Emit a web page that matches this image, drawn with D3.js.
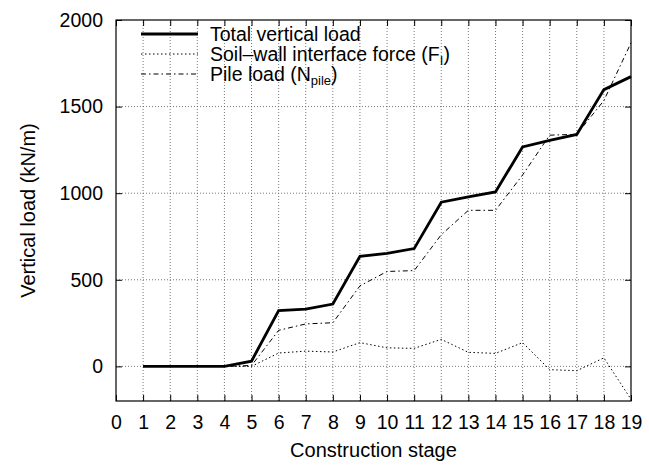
<!DOCTYPE html>
<html>
<head>
<meta charset="utf-8">
<script src="https://cdn.jsdelivr.net/npm/d3@7"></script>
<style>
  body { margin: 0; background: #fff; }
  svg text { font-family: "Liberation Sans", Arial, sans-serif; fill: #000; }
</style>
</head>
<body>
<script>
// Construction stages and loads (kN/m)
var stages = [1, 2, 3, 4, 5, 6, 7, 8, 9, 10, 11, 12, 13, 14, 15, 16, 17, 18, 19];
var totalLoad = [0, 0, 0, 0, 30, 322, 330, 360, 635, 653, 680, 948, 978, 1007, 1267, 1305, 1339, 1598, 1673];
var interfaceForce = [0, 0, 0, 0, 0, 77, 88, 83, 137, 107, 104, 156, 81, 75, 137, -19, -25, 49, -190];
var pileLoad = [0, 0, 0, 0, 5, 208, 245, 252, 465, 548, 553, 760, 901, 901, 1105, 1335, 1340, 1535, 1868];
var xTicks = d3.range(0, 20);
var yTicks = [0, 500, 1000, 1500, 2000];

function drawChart(){
  var W = 649, H = 467;
  var m = {left: 116, right: 18, top: 20, bottom: 66};

  var svg = d3.select("body").append("svg")
      .attr("width", W)
      .attr("height", H);

  var x = d3.scaleLinear().domain([0, 19]).range([m.left, W - m.right]);
  var y = d3.scaleLinear().domain([-200, 2000]).range([H - m.bottom, m.top]);

  // grid
  svg.append("g").selectAll("line").data(xTicks.slice(1, -1)).join("line")
      .attr("x1", d => x(d)).attr("x2", d => x(d))
      .attr("y1", y(-200)).attr("y2", y(2000))
      .attr("stroke", "#555").attr("stroke-width", 0.8)
      .attr("stroke-dasharray", "1,2");
  svg.append("g").selectAll("line").data(yTicks.slice(0, -1)).join("line")
      .attr("x1", x(0)).attr("x2", x(19))
      .attr("y1", d => y(d)).attr("y2", d => y(d))
      .attr("stroke", "#555").attr("stroke-width", 0.8)
      .attr("stroke-dasharray", "1,2");

  // axes, ticks pointing inward on all sides
  svg.append("g").attr("transform", "translate(0," + y(-200) + ")")
      .call(d3.axisBottom(x).tickValues(xTicks).tickSize(-6).tickPadding(14).tickSizeOuter(0))
      .call(g => g.selectAll("text").attr("font-size", 19.5));
  svg.append("g").attr("transform", "translate(0," + y(2000) + ")")
      .call(d3.axisTop(x).tickValues(xTicks).tickSize(-6).tickFormat("").tickSizeOuter(0));
  svg.append("g").attr("transform", "translate(" + x(0) + ",0)")
      .call(d3.axisLeft(y).tickValues(yTicks).tickSize(-6).tickPadding(13)
        .tickFormat(d3.format("d")).tickSizeOuter(0))
      .call(g => g.selectAll("text").attr("font-size", 19.5));
  svg.append("g").attr("transform", "translate(" + x(19) + ",0)")
      .call(d3.axisRight(y).tickValues(yTicks).tickSize(-6).tickFormat("").tickSizeOuter(0));
  svg.selectAll(".domain").remove();
  svg.selectAll(".tick line").attr("stroke", "#000");

  // frame
  svg.append("rect")
      .attr("x", x(0)).attr("y", y(2000))
      .attr("width", x(19) - x(0)).attr("height", y(-200) - y(2000))
      .attr("fill", "none").attr("stroke", "#000").attr("stroke-width", 1.2);

  // series
  var series = [
    {name: "Total vertical load", values: totalLoad, width: 2.8, dash: null},
    {name: "interface", values: interfaceForce, width: 1, dash: "1.5,2.5"},
    {name: "pile", values: pileLoad, width: 1, dash: "5,3,1.5,3"}
  ];
  var line = d3.line().x((d, i) => x(stages[i])).y(d => y(d));
  series.forEach(function(s){
    svg.append("path")
        .datum(s.values)
        .attr("d", line)
        .attr("fill", "none")
        .attr("stroke", "#000")
        .attr("stroke-width", s.width)
        .attr("stroke-dasharray", s.dash);
  });

  // legend
  var lg = svg.append("g");
  var rows = [34, 54, 74];
  series.forEach(function(s, i){
    lg.append("line")
        .attr("x1", 141).attr("x2", 198)
        .attr("y1", rows[i]).attr("y2", rows[i])
        .attr("stroke", "#000")
        .attr("stroke-width", s.width)
        .attr("stroke-dasharray", s.dash);
  });
  lg.append("text").attr("x", 210).attr("y", rows[0] + 7).attr("font-size", 19.5)
      .text("Total vertical load");
  var t2 = lg.append("text").attr("x", 210).attr("y", rows[1] + 7).attr("font-size", 19.5);
  t2.append("tspan").text("Soil\u2013wall interface force (F");
  t2.append("tspan").attr("font-size", 13).attr("dy", 4).text("I");
  t2.append("tspan").attr("dy", -4).text(")");
  var t3 = lg.append("text").attr("x", 210).attr("y", rows[2] + 7).attr("font-size", 19.5);
  t3.append("tspan").text("Pile load (N");
  t3.append("tspan").attr("font-size", 13).attr("dy", 4).text("pile");
  t3.append("tspan").attr("dy", -4).text(")");

  // axis titles
  svg.append("text")
      .attr("x", (x(0) + x(19)) / 2).attr("y", 457)
      .attr("text-anchor", "middle").attr("font-size", 20)
      .text("Construction stage");
  svg.append("text")
      .attr("transform", "translate(35," + ((y(-200) + y(2000)) / 2) + ") rotate(-90)")
      .attr("text-anchor", "middle").attr("font-size", 20)
      .text("Vertical load (kN/m)");
}
drawChart();
</script>
</body>
</html>
